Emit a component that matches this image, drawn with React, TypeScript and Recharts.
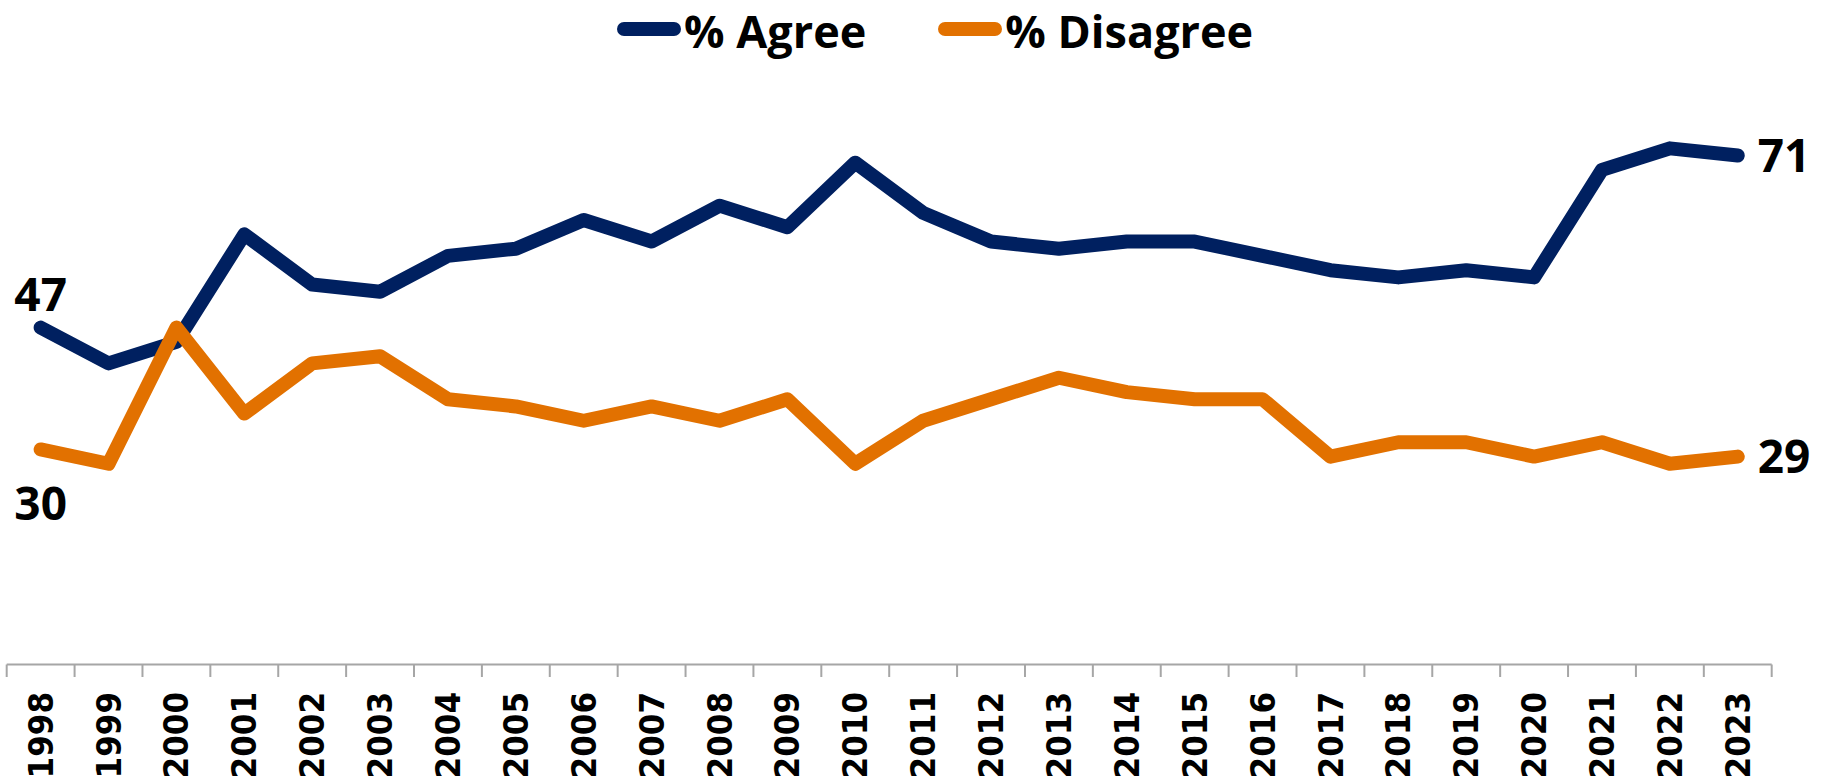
import { LineChart, Line, XAxis, YAxis, Legend, LabelList } from 'recharts'

const YEARS = [
  '1998', '1999', '2000', '2001', '2002', '2003', '2004', '2005', '2006', '2007', '2008', '2009', '2010',
  '2011', '2012', '2013', '2014', '2015', '2016', '2017', '2018', '2019', '2020', '2021', '2022', '2023',
]
const AGREE = [47, 42, 45, 60, 53, 52, 57, 58, 62, 59, 64, 61, 70, 63, 59, 58, 59, 59, 57, 55, 54, 55, 54, 69, 72, 71]
const DISAGREE = [30, 28, 47, 35, 42, 43, 37, 36, 34, 36, 34, 37, 28, 34, 37, 40, 38, 37, 37, 29, 31, 31, 29, 31, 28, 29]
const SERIES_NAMES = ['% Agree', '% Disagree']
const Y_DOMAIN: [number, number] = [0, 80]

const NAVY = '#002060'
const ORANGE = '#E27100'
const AXIS_GRAY = '#A6A6A6'
const LABEL_FONT = "'Open Sans', sans-serif"

const data = YEARS.map((year, idx) => ({ idx, year, agree: AGREE[idx], disagree: DISAGREE[idx] }))

// boundary ticks (x.5) carry the tick marks, whole ticks carry the year labels
const xTicks: number[] = []
for (let i = 0; i <= YEARS.length; i++) {
  xTicks.push(i - 0.5)
  if (i < YEARS.length) xTicks.push(i)
}

function YearTick(props: any) {
  const { x, y, payload } = props
  const v = payload.value
  if (!Number.isInteger(v)) {
    return <line x1={x} x2={x} y1={y} y2={y + 12.5} stroke={AXIS_GRAY} strokeWidth={2} />
  }
  const ty = y + 27.5
  return (
    <text
      x={x}
      y={ty}
      dy="0.35em"
      transform={`rotate(-90 ${x} ${ty})`}
      textAnchor="end"
      fontFamily="'DejaVu Sans Condensed', 'DejaVu Sans', sans-serif"
      fontStretch="condensed"
      fontWeight={700}
      fontSize={34.5}
      fill="#000"
    >
      {YEARS[v]}
    </text>
  )
}

const endLabel = (side: 'top' | 'bottom') => (props: any) => {
  const { x, y, value, index } = props
  const common = { fontFamily: LABEL_FONT, fontWeight: 700, fontSize: 46, fill: '#000' }
  if (index === 0) {
    return side === 'top' ? (
      <text x={x} y={y - 17} textAnchor="middle" {...common}>{value}</text>
    ) : (
      <text x={x} y={y + 38} dy="0.714em" textAnchor="middle" {...common}>{value}</text>
    )
  }
  if (index === YEARS.length - 1) {
    return <text x={x + 20} y={y} dy="0.36em" textAnchor="start" {...common}>{value}</text>
  }
  return null
}

function LegendBox() {
  const items = [
    { name: SERIES_NAMES[0], color: NAVY },
    { name: SERIES_NAMES[1], color: ORANGE },
  ]
  return (
    <div style={{ display: 'flex', paddingLeft: 617, height: 64, gap: 72 }}>
      {items.map((it) => (
        <div key={it.name} style={{ display: 'flex', alignItems: 'flex-start' }}>
          <svg width={64} height={60} style={{ display: 'block' }}>
            <line x1={7} x2={57} y1={29} y2={29} stroke={it.color} strokeWidth={14} strokeLinecap="round" />
          </svg>
          <span
            style={{
              fontFamily: LABEL_FONT,
              fontWeight: 700,
              fontSize: 45,
              lineHeight: 'normal',
              marginLeft: 3,
              color: '#000',
              whiteSpace: 'nowrap',
            }}
          >
            {it.name}
          </span>
        </div>
      ))}
    </div>
  )
}

export default function App() {
  return (
    <div style={{ position: 'absolute', left: 0, top: 0, width: 1827, height: 781, background: '#fff' }}>
      <LineChart width={1827} height={781} data={data} margin={{ top: 27, right: 55.3, bottom: 0, left: 6.7 }}>
        <Legend
          verticalAlign="top"
          align="left"
          content={() => <LegendBox />}
          wrapperStyle={{ top: 0, left: 0, width: 1827, height: 64 }}
        />
        <XAxis
          type="number"
          dataKey="idx"
          domain={[-0.5, YEARS.length - 0.5]}
          ticks={xTicks}
          interval={0}
          allowDecimals
          height={116.5}
          tickSize={0}
          tickMargin={0}
          tickLine={false}
          axisLine={{ stroke: AXIS_GRAY, strokeWidth: 2 }}
          tick={<YearTick />}
        />
        <YAxis hide domain={Y_DOMAIN} />
        <Line
          type="linear"
          dataKey="agree"
          name={SERIES_NAMES[0]}
          stroke={NAVY}
          strokeWidth={14}
          strokeLinecap="round"
          strokeLinejoin="round"
          dot={false}
          activeDot={false}
          isAnimationActive={false}
        >
          <LabelList dataKey="agree" content={endLabel('top')} />
        </Line>
        <Line
          type="linear"
          dataKey="disagree"
          name={SERIES_NAMES[1]}
          stroke={ORANGE}
          strokeWidth={14}
          strokeLinecap="round"
          strokeLinejoin="round"
          dot={false}
          activeDot={false}
          isAnimationActive={false}
        >
          <LabelList dataKey="disagree" content={endLabel('bottom')} />
        </Line>
      </LineChart>
    </div>
  )
}
